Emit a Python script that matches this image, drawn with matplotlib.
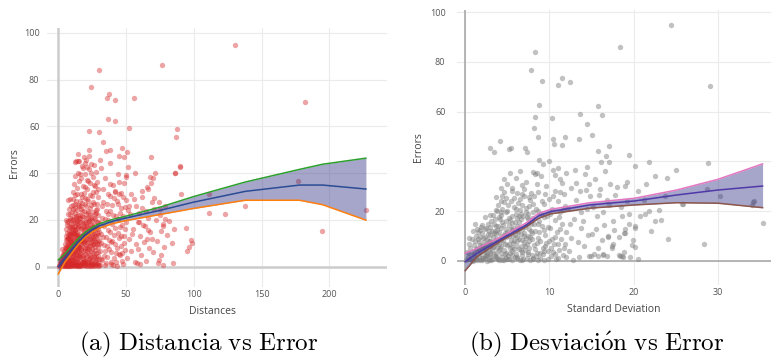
import matplotlib
matplotlib.use("Agg")
import matplotlib.pyplot as plt
import numpy as np

plt.rcParams['font.family'] = ['Open Sans', 'DejaVu Sans']
plt.rcParams['mathtext.fontset'] = 'cm'

# ---- panel (a): error against distance ----
dist_points = [
    # outliers
    (130.4, 95.0), (76.5, 86.3), (30.0, 84.2), (23.9, 76.7), (37.4, 73.9), (35.7, 72.2), (42.1, 71.1),
    (56.1, 72.1), (181.8, 70.5), (36.4, 63.0), (41.8, 62.4), (52.0, 59.4), (22.4, 58.1), (29.8, 57.4),
    (87.8, 59.0), (86.9, 55.4), (33.2, 53.3), (47.2, 50.7), (38.2, 49.9), (35.0, 49.3), (22.9, 49.7),
    (50.5, 49.2), (14.3, 48.2), (44.6, 47.3), (48.5, 46.7), (68.2, 46.7), (30.8, 45.5), (14.3, 45.3),
    (19.5, 44.4), (89.6, 42.6), (51.2, 42.5), (38.2, 44.4), (31.5, 42.3), (71.1, 39.9), (86.1, 39.9),
    (56.4, 39.9), (44.2, 39.8), (49.8, 39.4), (70.2, 38.1), (68.2, 35.6), (90.3, 30.9), (61.5, 32.5),
    (66.2, 33.2), (70.7, 29.2), (74.2, 27.5), (79.0, 26.1), (74.8, 24.5), (94.0, 16.7), (85.5, 16.1),
    (77.1, 18.2), (77.1, 17.5), (69.4, 12.0), (65.5, 11.7), (97.9, 11.3), (98.9, 10.0), (96.2, 8.5),
    (95.0, 6.6), (73.3, 1.4), (77.1, 0.6), (85.0, 1.7), (76.1, 4.9), (111.2, 30.9), (111.0, 23.1),
    (123.3, 22.4), (137.6, 26.1), (176.7, 36.5), (194.4, 15.4), (227.1, 24.1), (51.7, 24.4),
    (59.6, 23.1), (59.8, 19.3), (89.8, 43.0), (85.9, 39.9), (67.7, 38.2), (65.7, 34.2),
    # 0-5
    (0.5, 0.3), (1.0, 1.2), (1.5, 0.5), (2.0, 2.1), (2.2, 0.8), (2.8, 3.5), (3.0, 1.0), (3.3, 5.2),
    (3.6, 2.4), (4.0, 0.4), (4.1, 6.8), (4.4, 3.3), (4.7, 1.6), (4.9, 8.0), (1.2, 2.6), (2.5, 4.4),
    (3.8, 4.0), (0.8, 0.1), (4.5, 5.6), (3.1, 7.5), (2.1, 1.5), (4.2, 2.0), (1.7, 3.2), (3.5, 0.2),
    (4.8, 4.5),
    # 5-15
    (5.1, 0.6), (5.3, 3.1), (5.5, 7.4), (5.6, 11.2), (5.8, 1.9), (6.0, 5.0), (6.1, 14.5), (6.3, 9.1),
    (6.4, 2.7), (6.6, 17.8), (6.8, 0.3), (7.0, 6.2), (7.1, 12.4), (7.3, 3.8), (7.5, 19.6), (7.6, 8.7),
    (7.8, 1.1), (8.0, 15.3), (8.1, 4.6), (8.3, 10.5), (8.4, 0.2), (8.6, 13.1), (8.8, 6.9), (9.0, 2.5),
    (9.1, 18.2), (9.3, 9.8), (9.5, 4.0), (9.6, 16.1), (9.8, 0.9), (10.0, 12.0), (10.1, 7.5), (10.3, 20.4),
    (10.5, 3.2), (10.6, 14.6), (10.8, 1.7), (11.0, 9.2), (11.1, 5.8), (11.3, 17.0), (11.5, 11.3),
    (11.6, 0.5), (11.8, 13.9), (12.0, 3.9), (12.1, 19.1), (12.3, 7.1), (12.5, 2.0), (12.6, 15.7),
    (12.8, 10.4), (13.0, 5.3), (13.1, 21.7), (13.3, 0.8), (13.5, 12.8), (13.6, 8.2), (13.8, 18.5),
    (14.0, 2.9), (14.1, 14.9), (14.3, 6.4), (14.5, 0.3), (14.6, 11.6), (14.8, 16.8), (15.0, 4.4),
    (5.2, 9.6), (5.9, 13.0), (6.2, 0.9), (6.7, 4.1), (7.2, 10.0), (7.7, 14.0), (8.2, 8.0), (8.7, 2.0),
    (9.2, 11.0), (9.7, 7.0), (10.2, 16.9), (10.7, 5.0), (11.2, 2.8), (11.7, 7.9), (12.2, 12.7),
    (12.7, 4.8), (13.2, 9.6), (13.7, 1.4), (14.2, 8.9), (14.7, 13.2), (5.4, 4.8), (6.5, 8.0), (7.4, 1.8),
    (8.5, 17.0), (9.4, 0.5), (10.4, 9.9), (11.4, 14.2), (12.4, 0.6), (13.4, 16.3), (14.4, 3.6),
    (5.7, 2.2), (6.9, 11.8), (7.9, 6.0), (8.9, 13.8), (9.9, 3.0), (10.9, 18.8), (11.9, 6.2), (12.9, 13.5),
    (13.9, 10.8), (14.9, 7.8), (6.0, 20.1), (7.0, 22.5), (8.0, 24.6), (9.0, 21.0), (10.0, 23.5),
    (11.0, 26.4), (12.0, 22.8), (13.0, 27.9), (14.0, 24.1), (15.0, 20.9), (5.5, 16.3), (6.4, 19.3),
    (8.3, 19.9), (9.6, 25.8), (11.6, 21.3), (12.6, 25.0), (13.6, 19.7), (14.6, 22.3), (7.3, 28.4),
    (10.8, 28.9), (8.9, 29.0), (12.3, 30.8),
    # 15-30
    (15.2, 0.4), (15.4, 8.3), (15.6, 14.0), (15.8, 2.6), (16.0, 19.2), (16.2, 6.0), (16.4, 24.8),
    (16.6, 11.1), (16.8, 1.2), (17.0, 16.4), (17.2, 4.5), (17.4, 21.6), (17.6, 9.0), (17.8, 27.3),
    (18.0, 0.7), (18.2, 13.5), (18.4, 6.8), (18.6, 18.7), (18.8, 3.0), (19.0, 23.8), (19.2, 10.2),
    (19.4, 1.5), (19.6, 15.9), (19.8, 29.4), (20.0, 5.4), (20.2, 20.8), (20.4, 12.0), (20.6, 0.3),
    (20.8, 26.0), (21.0, 8.1), (21.2, 17.4), (21.4, 2.2), (21.6, 22.9), (21.8, 13.4), (22.0, 5.9),
    (22.2, 28.1), (22.4, 10.6), (22.6, 0.9), (22.8, 19.5), (23.0, 15.1), (23.2, 3.6), (23.4, 25.0),
    (23.6, 8.9), (23.8, 1.0), (24.0, 21.2), (24.2, 12.4), (24.4, 6.7), (24.6, 17.9), (24.8, 30.2),
    (25.0, 2.8), (25.2, 14.6), (25.4, 9.5), (25.6, 23.4), (25.8, 0.5), (26.0, 18.3), (26.2, 5.1),
    (26.4, 27.0), (26.6, 11.8), (26.8, 2.1), (27.0, 20.5), (27.2, 15.6), (27.4, 7.3), (27.6, 24.3),
    (27.8, 0.8), (28.0, 12.9), (28.2, 4.1), (28.4, 19.0), (28.6, 9.8), (28.8, 26.6), (29.0, 1.6),
    (29.2, 16.2), (29.4, 6.3), (29.6, 22.1), (29.8, 11.2), (30.0, 3.4), (15.5, 5.0), (16.5, 9.5),
    (17.5, 13.0), (18.5, 1.8), (19.5, 7.2), (20.5, 16.8), (21.5, 10.0), (22.5, 3.1), (23.5, 12.0),
    (24.5, 0.2), (15.9, 11.7), (16.9, 7.3), (17.9, 3.5), (18.9, 10.8), (19.9, 2.5), (20.9, 13.8),
    (21.9, 18.9), (22.9, 7.4), (23.9, 16.3), (24.9, 9.1), (15.1, 17.6), (16.3, 22.0), (17.1, 25.8),
    (18.1, 21.4), (19.1, 12.9), (20.1, 9.3), (21.1, 4.7), (22.1, 15.3), (23.1, 20.0), (24.1, 4.0),
    (25.5, 6.0), (26.5, 14.0), (27.5, 3.2), (28.5, 17.0), (29.5, 8.6), (25.1, 19.8), (26.1, 9.9),
    (27.1, 10.9), (28.1, 22.8), (29.1, 13.7), (15.3, 26.1), (17.3, 29.8), (19.3, 31.5), (21.3, 33.2),
    (23.3, 35.9), (25.3, 32.0), (27.3, 34.4), (29.3, 29.9),
    # denser core of the cloud
    (3.2, 1.8), (3.9, 3.0), (4.6, 0.9), (5.0, 2.4), (5.3, 6.0), (5.7, 0.2), (6.1, 3.6), (6.5, 5.6),
    (6.9, 1.6), (7.2, 7.2), (7.6, 3.0), (7.9, 9.6), (8.2, 1.4), (8.6, 5.2), (9.0, 7.8), (9.3, 2.8),
    (9.7, 10.4), (10.0, 1.2), (10.4, 6.2), (10.8, 11.8), (11.2, 4.0), (11.5, 8.2), (11.9, 1.0),
    (12.3, 10.0), (12.7, 6.8), (13.1, 2.4), (13.5, 4.6), (13.9, 13.6), (14.3, 1.9), (14.7, 9.6),
    (15.1, 6.6), (15.5, 11.0), (15.9, 0.9), (16.3, 4.2), (16.7, 13.0), (17.1, 7.8), (17.5, 2.0),
    (17.9, 10.4), (18.3, 5.0), (18.7, 15.2), (19.1, 0.6), (19.5, 11.6), (19.9, 8.0), (20.3, 3.6),
    (20.7, 18.6), (21.1, 6.6), (21.5, 14.8), (21.9, 1.4), (22.3, 8.6), (22.7, 13.0), (23.1, 5.0),
    (23.5, 18.0), (23.9, 10.0), (24.3, 2.4), (24.7, 14.0), (25.1, 7.6), (25.5, 1.2), (25.9, 12.2),
    (26.3, 20.6), (26.7, 4.0), (27.1, 8.4), (27.5, 16.8), (27.9, 6.0), (28.3, 1.2), (28.7, 14.2),
    (29.1, 4.6), (29.5, 19.0), (6.3, 12.0), (7.9, 17.6), (9.5, 13.4), (11.1, 20.0), (12.7, 17.6),
    (14.3, 18.0), (15.9, 21.0), (17.5, 19.0), (19.1, 17.4), (20.7, 22.4), (22.3, 24.0), (23.9, 26.2),
    (25.5, 27.5), (27.1, 22.6), (28.7, 24.8), (8.8, 22.5), (10.6, 24.8), (12.4, 27.0), (14.2, 26.5),
    (16.0, 28.2), (17.8, 24.0), (19.6, 27.0), (21.4, 29.0), (3.4, 0.8), (4.3, 1.2), (5.1, 1.4),
    (6.0, 0.6), (7.0, 0.4), (8.0, 0.9), (9.0, 0.3), (10.0, 0.7), (11.0, 0.4), (12.0, 0.9), (13.0, 0.2),
    (14.0, 0.8), (15.0, 0.5), (16.0, 0.8), (17.0, 0.3), (18.0, 1.6), (19.0, 2.0), (20.0, 0.9),
    (21.0, 0.5), (22.0, 1.8), (23.0, 0.4), (24.0, 1.5), (25.0, 0.9), (26.0, 0.2), (27.0, 1.0),
    (28.0, 2.6), (29.0, 0.4), (30.0, 0.9), (6.6, 6.8), (8.4, 11.8), (10.2, 13.8), (12.0, 15.4),
    (13.8, 7.0), (15.6, 8.4), (17.4, 11.0), (19.2, 14.4), (21.0, 11.8), (22.8, 16.6), (24.6, 11.2),
    (26.4, 16.0), (28.2, 10.4), (30.0, 15.0), (5.8, 8.6), (7.4, 12.8), (9.2, 15.0), (11.0, 16.0),
    (12.8, 21.0), (14.6, 19.8), (16.4, 16.0), (18.2, 17.0), (20.0, 19.0), (21.8, 21.0), (23.6, 22.0),
    (25.4, 17.0), (27.2, 13.0), (29.0, 11.0),
    # upper part of the cloud
    (10.5, 32.0), (11.5, 35.4), (12.5, 38.9), (13.5, 33.5), (14.5, 40.1), (15.5, 36.8), (16.5, 31.0),
    (17.5, 43.0), (18.5, 34.7), (19.5, 39.6), (20.5, 45.5), (21.5, 37.1), (22.5, 41.8), (23.5, 30.5),
    (24.5, 44.0), (25.5, 38.2), (26.5, 35.0), (27.5, 40.5), (28.5, 36.0), (29.5, 33.0), (12.0, 44.9),
    (14.0, 31.2), (16.0, 39.8), (18.0, 42.0), (20.0, 34.0), (22.0, 36.5), (24.0, 40.0), (26.0, 43.5),
    (28.0, 31.8), (13.0, 45.2), (19.0, 47.0), (17.0, 38.0), (15.0, 45.0), (21.0, 42.5), (23.0, 47.5),
    # 30-50
    (30.5, 0.5), (31.0, 6.9), (31.5, 14.1), (32.0, 21.0), (32.5, 2.8), (33.0, 27.5), (33.5, 9.4),
    (34.0, 17.2), (34.5, 0.9), (35.0, 24.0), (35.5, 12.6), (36.0, 4.2), (36.5, 31.0), (37.0, 19.8),
    (37.5, 7.7), (38.0, 35.2), (38.5, 15.0), (39.0, 1.3), (39.5, 26.5), (40.0, 10.9), (40.5, 22.0),
    (41.0, 3.9), (41.5, 32.5), (42.0, 16.7), (42.5, 6.0), (43.0, 28.0), (43.5, 0.4), (44.0, 20.3),
    (44.5, 12.1), (45.0, 36.0), (45.5, 4.8), (46.0, 24.9), (46.5, 9.0), (47.0, 17.9), (47.5, 30.0),
    (48.0, 1.0), (48.5, 13.3), (49.0, 25.5), (49.5, 7.2), (50.0, 19.0), (30.8, 18.5), (31.8, 10.1),
    (32.8, 33.4), (33.8, 4.4), (34.8, 20.5), (35.8, 8.8), (36.8, 15.5), (37.8, 23.6), (38.8, 2.1),
    (39.8, 18.2), (40.8, 29.5), (41.8, 9.5), (42.8, 21.8), (43.8, 14.4), (44.8, 5.5), (45.8, 17.0),
    (46.8, 2.6), (47.8, 21.5), (48.8, 10.2), (49.8, 28.7), (31.2, 3.3), (33.2, 12.8), (35.2, 1.7),
    (37.2, 11.2), (39.2, 6.4), (41.2, 13.5), (43.2, 8.0), (45.2, 23.0), (47.2, 5.9), (49.2, 16.0),
    (32.2, 26.0), (34.2, 38.0), (36.2, 27.0), (38.2, 30.4), (40.2, 35.0), (42.2, 32.0), (44.2, 26.8),
    (46.2, 31.5), (48.2, 35.8), (50.2, 38.5), (30.2, 9.7), (34.5, 6.5), (38.6, 10.5), (42.6, 2.0),
    (46.6, 13.0), (36.6, 22.5), (40.6, 0.8), (44.6, 31.0),
    # 50-85
    (51.0, 3.5), (52.0, 12.0), (53.0, 22.5), (54.0, 6.5), (55.0, 16.0), (56.0, 29.0), (57.0, 9.8),
    (58.0, 1.5), (59.0, 19.3), (60.0, 13.0), (61.0, 4.8), (62.0, 25.0), (63.0, 10.5), (64.0, 17.5),
    (65.0, 2.5), (66.0, 21.0), (67.0, 8.0), (68.0, 14.8), (69.0, 27.6), (70.0, 6.2), (72.0, 19.8),
    (73.0, 11.0), (74.0, 3.0), (75.0, 22.0), (76.0, 15.2), (78.0, 8.5), (79.0, 20.5), (80.0, 13.5),
    (82.0, 19.5), (84.0, 10.0), (53.5, 31.0), (57.5, 26.0), (61.5, 30.0), (66.5, 15.5), (71.0, 24.8),
    (54.5, 14.0), (58.5, 7.5), (62.5, 18.0), (52.5, 26.0), (56.5, 2.0), (60.5, 1.0), (64.5, 24.0),
]

dist_x = [0, 5, 10, 15, 20, 25, 30, 40, 50, 76, 100, 138, 178, 195, 227]
dist_upper = [2.9, 5.5, 9.0, 12.2, 14.8, 16.8, 18.3, 20.2, 21.6, 25.6, 30.0, 36.2, 41.6, 43.8, 46.4]
dist_mean = [0.0, 3.6, 7.3, 10.8, 13.6, 15.8, 17.4, 19.4, 20.8, 24.2, 27.6, 32.2, 34.9, 34.9, 33.2]
dist_lower = [-3.1, 2.0, 5.8, 9.6, 12.5, 14.8, 16.4, 18.4, 19.7, 22.4, 24.9, 28.4, 28.4, 26.5, 19.9]

# ---- panel (b): error against standard deviation ----
std_points = [
    # outliers
    (24.4, 94.8), (18.4, 86.1), (8.3, 84.1), (7.8, 76.6), (11.45, 73.6), (11.0, 70.9), (9.1, 72.2),
    (12.4, 71.9), (29.1, 70.3), (8.8, 62.8), (15.8, 62.2), (16.2, 58.8), (8.3, 58.0), (10.3, 57.3),
    (13.6, 59.2), (8.2, 53.3), (14.5, 55.2), (15.1, 50.5), (8.7, 49.8), (10.4, 49.1), (11.8, 49.8),
    (13.5, 49.1), (10.5, 47.1), (11.5, 46.5), (4.1, 48.2), (2.9, 45.4), (3.4, 43.8), (5.2, 45.0),
    (5.4, 45.5), (7.1, 45.2), (7.3, 43.9), (15.8, 44.3), (17.1, 46.3), (16.7, 42.3), (19.5, 42.6),
    (20.2, 38.3), (21.8, 39.6), (16.1, 39.6), (17.1, 39.6), (14.5, 37.8), (28.8, 39.5), (25.0, 36.4),
    (23.9, 33.2), (22.5, 34.1), (21.5, 31.1), (19.2, 31.6), (28.7, 29.0), (30.3, 26.1), (23.7, 26.2),
    (25.7, 22.9), (34.3, 24.1), (34.0, 22.5), (35.3, 15.4), (34.2, 23.8), (23.2, 16.6), (21.8, 20.2),
    (20.8, 18.2), (21.4, 18.7), (20.1, 13.4), (20.2, 14.0), (19.9, 8.4), (24.1, 8.8), (28.4, 6.7),
    (20.5, 0.9), (18.6, 2.0), (18.4, 1.9), (18.7, 1.5), (19.6, 1.7), (19.0, 11.1), (19.0, 12.9),
    (17.4, 5.1), (17.0, 9.7), (15.8, 2.1), (16.4, 2.6), (14.7, 1.9), (20.5, 28.0), (21.2, 24.5),
    (22.0, 12.0), (23.0, 20.5), (20.2, 5.5), (22.5, 16.0), (25.8, 23.0),
    # 0-3
    (0.1, 0.2), (0.3, 1.4), (0.4, 3.0), (0.5, 0.6), (0.6, 5.1), (0.7, 2.2), (0.8, 8.8), (0.9, 0.1),
    (1.0, 4.0), (1.1, 6.6), (1.2, 1.8), (1.3, 10.2), (1.4, 0.7), (1.5, 3.5), (1.6, 7.7), (1.7, 12.3),
    (1.8, 2.6), (1.9, 5.5), (2.0, 0.3), (2.1, 9.4), (2.2, 4.4), (2.3, 12.9), (2.4, 1.2), (2.5, 7.0),
    (2.6, 3.1), (2.7, 10.8), (2.8, 0.5), (2.9, 5.9), (3.0, 8.2), (0.2, 3.6), (0.5, 6.9), (0.8, 1.0),
    (1.1, 2.9), (1.4, 5.4), (1.7, 0.4), (2.0, 6.2), (2.3, 2.0), (2.6, 9.0), (2.9, 1.6), (1.2, 8.0),
    (1.5, 11.5), (1.9, 13.6), (2.2, 7.5), (2.5, 5.0), (2.8, 11.9), (1.0, 0.2), (1.6, 4.8), (2.4, 3.7),
    (2.7, 6.4), (3.0, 2.7), (1.3, 1.0), (1.8, 9.8), (2.1, 1.1), (2.6, 0.1), (0.4, 9.3), (0.9, 12.0),
    (1.4, 13.0), (2.0, 14.6), (2.5, 13.3), (3.0, 13.8),
    # 3-8
    (3.1, 0.4), (3.2, 4.5), (3.3, 9.7), (3.4, 15.0), (3.5, 2.0), (3.6, 20.4), (3.7, 7.1), (3.8, 12.5),
    (3.9, 0.9), (4.0, 17.6), (4.1, 5.3), (4.2, 24.0), (4.3, 10.1), (4.4, 1.7), (4.5, 14.3), (4.6, 27.9),
    (4.7, 6.8), (4.8, 19.5), (4.9, 3.1), (5.0, 11.8), (5.1, 22.6), (5.2, 0.6), (5.3, 16.3), (5.4, 8.4),
    (5.5, 29.5), (5.6, 4.0), (5.7, 13.4), (5.8, 25.1), (5.9, 1.4), (6.0, 19.0), (6.1, 9.6), (6.2, 6.0),
    (6.3, 23.2), (6.4, 15.5), (6.5, 0.3), (6.6, 11.0), (6.7, 27.0), (6.8, 3.7), (6.9, 18.1), (7.0, 7.8),
    (7.1, 13.6), (7.2, 21.4), (7.3, 1.1), (7.4, 10.0), (7.5, 16.8), (7.6, 5.2), (7.7, 24.5), (7.8, 12.2),
    (7.9, 2.4), (8.0, 19.7), (3.2, 7.7), (3.5, 12.0), (3.8, 5.0), (4.1, 9.0), (4.4, 21.0), (4.7, 11.2),
    (5.0, 6.5), (5.3, 3.3), (5.6, 18.0), (5.9, 10.5), (6.2, 14.2), (6.5, 20.6), (6.8, 8.5), (7.1, 4.4),
    (7.4, 18.9), (7.7, 0.4), (3.3, 18.3), (3.6, 1.0), (3.9, 14.0), (4.2, 3.0), (4.5, 8.0), (4.8, 16.0),
    (5.1, 1.9), (5.4, 13.0), (5.7, 7.3), (6.0, 2.8), (6.3, 11.5), (6.6, 16.9), (6.9, 0.9), (7.2, 9.1),
    (7.5, 3.5), (7.8, 14.8), (3.4, 6.2), (3.7, 10.9), (4.0, 0.3), (4.3, 13.2), (4.6, 4.5), (4.9, 25.3),
    (5.2, 9.9), (5.5, 5.6), (5.8, 21.8), (6.1, 17.3), (6.4, 4.9), (6.7, 12.8), (7.0, 26.2), (7.3, 15.0),
    (7.6, 22.0), (7.9, 8.9), (3.0, 10.6), (4.4, 26.0), (5.6, 28.0), (6.8, 30.5), (3.9, 22.5), (5.0, 31.0),
    (6.0, 33.3), (7.2, 31.7), (4.6, 33.0), (3.6, 25.8), (5.3, 35.5), (6.5, 36.0), (3.1, 16.0), (3.4, 11.1),
    (3.7, 3.2), (4.0, 7.0), (4.3, 18.5), (4.6, 0.5), (4.9, 9.8), (5.2, 14.6), (5.5, 2.4), (5.8, 7.9),
    (6.1, 1.0), (6.4, 9.0), (6.7, 6.1), (7.0, 11.4), (7.3, 6.9), (7.6, 13.0), (7.9, 17.2), (6.5, 25.0),
    (5.0, 20.1), (4.3, 29.3),
    # denser core of the cloud
    (0.6, 0.9), (1.0, 2.6), (1.3, 4.6), (1.6, 1.5), (1.9, 3.9), (2.2, 6.0), (2.5, 2.3), (2.8, 4.6),
    (3.1, 6.6), (3.4, 2.6), (3.7, 8.8), (4.0, 4.2), (4.3, 6.2), (4.6, 10.6), (4.9, 1.0), (5.2, 7.0),
    (5.5, 12.6), (5.8, 4.6), (6.1, 8.2), (6.4, 13.4), (6.7, 2.4), (7.0, 10.2), (7.3, 17.6), (7.6, 8.0),
    (7.9, 11.2), (8.2, 15.0), (8.5, 7.4), (8.8, 11.6), (9.0, 18.8), (9.3, 12.5), (1.5, 8.8), (2.0, 11.2),
    (2.4, 9.8), (2.8, 8.0), (3.2, 12.2), (3.6, 14.2), (4.0, 11.8), (4.4, 15.8), (4.8, 13.0), (5.2, 17.2),
    (5.6, 15.4), (6.0, 21.0), (6.4, 18.2), (6.8, 22.4), (7.2, 19.8), (7.6, 25.8), (8.0, 23.0),
    (4.2, 19.8), (3.5, 17.0), (2.7, 15.0), (0.8, 0.5), (1.4, 0.3), (2.0, 1.0), (2.6, 1.8), (3.2, 0.9),
    (3.8, 1.5), (4.4, 0.3), (5.0, 0.8), (5.6, 0.2), (6.2, 1.6), (6.8, 0.2), (7.4, 2.8), (8.0, 1.2),
    (8.6, 0.4), (9.2, 2.6), (9.8, 0.9), (10.4, 3.4), (11.0, 1.0), (1.8, 6.4), (2.3, 5.2), (2.9, 3.4),
    (3.3, 5.6), (3.8, 7.6), (4.3, 8.6), (4.7, 2.6), (5.3, 5.0), (5.7, 10.0), (6.2, 12.2), (6.6, 4.2),
    (7.1, 6.0), (7.7, 9.6), (8.3, 4.8), (8.9, 3.2), (9.5, 6.0), (10.3, 9.0), (11.0, 6.8), (3.0, 18.5),
    (4.6, 23.5), (5.4, 24.0), (6.2, 27.5), (7.0, 29.0), (7.8, 27.5), (6.6, 19.0), (5.9, 15.8),
    (4.1, 16.8), (3.8, 20.0), (2.3, 17.5), (1.2, 14.8),
    # 8-12
    (8.1, 0.6), (8.2, 6.3), (8.3, 12.0), (8.4, 20.9), (8.5, 3.0), (8.6, 27.6), (8.7, 9.1), (8.8, 16.2),
    (8.9, 1.2), (9.0, 34.0), (9.1, 14.0), (9.2, 5.4), (9.3, 22.8), (9.4, 0.2), (9.5, 10.4), (9.6, 30.2),
    (9.7, 18.0), (9.8, 3.9), (9.9, 25.0), (10.0, 8.0), (10.1, 13.3), (10.2, 1.8), (10.3, 21.0),
    (10.4, 36.5), (10.5, 6.7), (10.6, 16.6), (10.7, 28.2), (10.8, 0.7), (10.9, 11.5), (11.0, 24.0),
    (11.1, 4.3), (11.2, 19.6), (11.3, 33.0), (11.4, 9.0), (11.5, 14.8), (11.6, 2.2), (11.7, 27.0),
    (11.8, 7.0), (11.9, 22.0), (12.0, 11.8), (8.3, 35.0), (8.5, 31.0), (8.8, 40.5), (9.2, 39.0),
    (9.5, 27.0), (10.0, 40.0), (10.6, 34.5), (11.0, 37.5), (11.5, 31.5), (12.0, 35.5), (8.4, 2.1),
    (8.9, 8.0), (9.3, 17.5), (9.8, 13.6), (10.2, 5.2), (10.7, 2.6), (11.2, 13.0), (11.7, 5.4),
    (8.6, 14.7), (9.1, 24.1), (9.6, 7.1), (10.1, 19.0), (10.6, 9.8), (11.1, 17.5), (11.6, 20.4),
    (12.0, 1.6), (8.2, 26.0), (8.7, 20.0), (9.4, 4.0), (10.4, 25.9), (11.3, 27.9), (8.0, 35.8), (8.5, 35.5),
    # 12-20
    (12.3, 3.8), (12.6, 9.4), (12.9, 17.0), (13.2, 24.6), (13.5, 1.5), (13.8, 13.2), (14.1, 6.0),
    (14.4, 20.8), (14.7, 31.0), (15.0, 11.0), (15.3, 2.6), (15.6, 17.9), (15.9, 26.5), (16.2, 8.4),
    (16.5, 14.3), (16.8, 1.8), (17.1, 22.5), (17.4, 5.9), (17.7, 12.4), (18.0, 29.6), (18.3, 9.5),
    (18.6, 18.2), (18.9, 3.6), (19.2, 24.0), (19.5, 14.9), (19.8, 6.3), (12.5, 29.5), (13.0, 36.5),
    (13.6, 28.0), (14.2, 35.0), (14.8, 26.0), (15.4, 33.0), (16.0, 29.0), (16.6, 36.0), (17.2, 31.0),
    (17.8, 26.5), (12.8, 0.5), (13.4, 7.5), (14.0, 16.0), (14.6, 10.5), (15.2, 21.5), (15.8, 5.0),
    (16.4, 19.5), (17.0, 10.0), (17.6, 16.0), (18.2, 2.3), (18.8, 11.2), (19.4, 19.0), (12.2, 21.0),
    (13.1, 31.5), (14.9, 2.0), (15.5, 13.0), (16.3, 2.5), (17.5, 7.0), (18.5, 21.5), (12.4, 15.0),
    (13.7, 19.5), (14.3, 28.5), (16.8, 24.5), (19.0, 30.0),
]

std_x = [0, 1.4, 4.1, 7.3, 8.7, 10.1, 14.8, 20.1, 25.1, 30.0, 35.3]
std_upper = [3.1, 5.0, 9.4, 15.4, 19.1, 20.7, 23.4, 25.2, 28.5, 32.8, 39.0]
std_mean = [-0.3, 3.1, 8.4, 14.5, 18.1, 19.8, 22.5, 24.1, 26.5, 28.5, 30.1]
std_lower = [-3.9, 1.7, 7.8, 13.8, 17.1, 18.9, 21.2, 22.5, 23.4, 23.2, 21.4]

fig = plt.figure(figsize=(7.71, 3.61), dpi=100)
ax1 = fig.add_axes([0.061, 0.205, 0.441, 0.717])
ax2 = fig.add_axes([0.593, 0.211, 0.407, 0.761])


def style_axes(ax, xticks, yticks, xlim, ylim, zero_w, zero_c, ypad):
    ax.set_xlim(*xlim)
    ax.set_ylim(*ylim)
    ax.set_xticks(xticks)
    ax.set_yticks(yticks)
    ax.grid(True, color='#ebebeb', linewidth=0.8)
    ax.set_axisbelow(True)
    for s in ax.spines.values():
        s.set_visible(False)
    ax.tick_params(length=0, labelsize=6.5, colors='#555555')
    ax.tick_params(axis='x', pad=2)
    ax.tick_params(axis='y', pad=ypad)
    ax.axhline(0, color=zero_c, linewidth=zero_w, zorder=1)
    ax.axvline(0, color=zero_c, linewidth=zero_w, zorder=1)


style_axes(ax1, [0, 50, 100, 150, 200], [0, 20, 40, 60, 80, 100],
           (-8.3, 242.6), (-8.7, 102), 1.8, '#cccccc', 5.5)
style_axes(ax2, [0, 10, 20, 30], [0, 20, 40, 60, 80, 100],
           (-0.95, 36.3), (-9.6, 100.8), 1.2, '#aaaaaa', 8.5)

dp = np.array(dist_points)
ax1.scatter(dp[:, 0], dp[:, 1], s=15, color='#d62728', alpha=0.42, linewidths=0, zorder=2)
ax1.fill_between(dist_x, dist_lower, dist_upper, color='#3a3a8a', alpha=0.45, linewidth=0, zorder=3)
ax1.plot(dist_x, dist_upper, color='#2ca02c', lw=1.1, zorder=4)
ax1.plot(dist_x, dist_lower, color='#ff7f0e', lw=1.1, zorder=4)
ax1.plot(dist_x, dist_mean, color='#2b4c94', lw=1.1, zorder=5)

sp = np.array(std_points)
ax2.scatter(sp[:, 0], sp[:, 1], s=15, color='#7f7f7f', alpha=0.48, linewidths=0, zorder=2)
ax2.fill_between(std_x, std_lower, std_upper, color='#3a3a8a', alpha=0.45, linewidth=0, zorder=3)
ax2.plot(std_x, std_upper, color='#e377c2', lw=1.1, zorder=4)
ax2.plot(std_x, std_lower, color='#8c564b', lw=1.1, zorder=4)
ax2.plot(std_x, std_mean, color='#4f3aa8', lw=1.1, zorder=5)

lab = dict(fontsize=7.5, color='#444444', ha='center', va='center')
fig.text(14 / 771, 1 - 163 / 361, 'Errors', rotation=90, **lab)
fig.text(213 / 771, 1 - 311 / 361, 'Distances', **lab)
fig.text(419 / 771, 1 - 147 / 361, 'Errors', rotation=90, **lab)
fig.text(614 / 771, 1 - 310 / 361, 'Standard Deviation', **lab)

cap = dict(fontsize=18, color='black', ha='center', va='center')
fig.text(199 / 771, 1 - 344 / 361, r'$\mathrm{(a)\ Distancia\ vs\ Error}$', **cap)
fig.text(597 / 771, 1 - 344 / 361, r'$\mathrm{(b)\ Desviaci\acute{o}n\ vs\ Error}$', **cap)

fig.savefig('out.png', dpi=100, facecolor='white')
